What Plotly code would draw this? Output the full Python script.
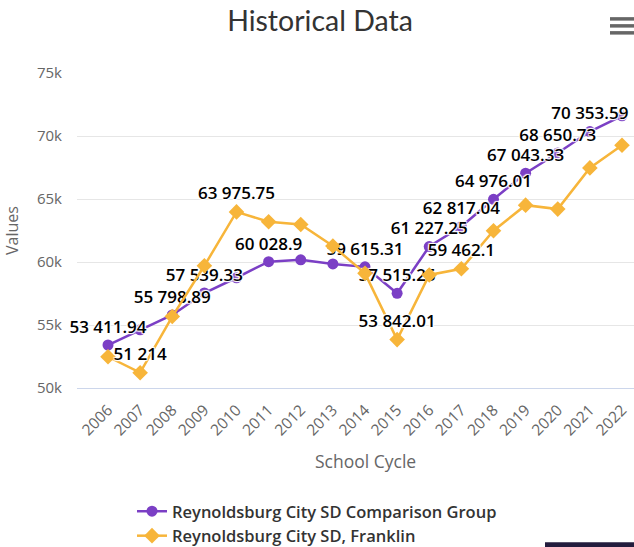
import plotly.graph_objects as go

years = list(range(2006, 2023))

comparison_group = [53411.94, 54620, 55798.89, 57539.33, 58750, 60028.9, 60170, 59850,
                    59615.31, 57515.25, 61227.25, 62817.04, 64976.01, 67043.33, 68650.73,
                    70353.59, 71600]
franklin = [52480, 51214, 55670, 59700, 63975.75, 63190, 62980, 61270,
            59100, 53842.01, 58970, 59462.1, 62480, 64510, 64200, 67470, 69260]

# which points carry a visible data label in the reference
comparison_labeled = [2006, 2008, 2009, 2011, 2014, 2015, 2016, 2017, 2018, 2019, 2020, 2021]
franklin_labeled = [2007, 2010, 2015, 2017]

series_names = ["Reynoldsburg City SD Comparison Group", "Reynoldsburg City SD, Franklin"]
y_ticks = [50000, 55000, 60000, 65000, 70000, 75000]
y_tick_text = ["50k", "55k", "60k", "65k", "70k", "75k"]


def fmt(v):
    s = f"{v:,.2f}".rstrip("0").rstrip(".")
    return s.replace(",", " ")


def labels(values, keep):
    return [fmt(v) if y in keep else "" for y, v in zip(years, values)]


W, H = 634, 547
ML, MR, MT, MB = 77, 0, 72.5, 158.7
PW = W - ML - MR
PH = H - MT - MB


def px_x(px):
    return (px - ML) / PW


def px_y(py):
    return (H - MB - py) / PH


PURPLE = "#7b3fc5"
ORANGE = "#f7b53a"
FONT = "Open Sans, sans-serif"
shadow = "1px 1px 1px #fff, -1px -1px 1px #fff, 1px -1px 1px #fff, -1px 1px 1px #fff"
label_font = dict(family=FONT, size=17, color="#000", weight=600, shadow=shadow)

fig = go.Figure()
fig.add_trace(go.Scatter(
    x=years, y=comparison_group, name=series_names[0], mode="lines+markers+text",
    line=dict(color=PURPLE, width=2.5), marker=dict(symbol="circle", size=11, color=PURPLE),
    text=labels(comparison_group, comparison_labeled), textposition="top center",
    textfont=label_font, cliponaxis=False,
))
fig.add_trace(go.Scatter(
    x=years, y=franklin, name=series_names[1], mode="lines+markers+text",
    line=dict(color=ORANGE, width=2.5), marker=dict(symbol="diamond", size=12, color=ORANGE),
    text=labels(franklin, franklin_labeled), textposition="top center",
    textfont=label_font, cliponaxis=False,
))

shapes = []
for y0 in (16.5, 23.5, 30.5):
    shapes.append(dict(type="rect", xref="paper", yref="paper",
                       x0=px_x(610), x1=px_x(636), y0=px_y(y0 + 3.5), y1=px_y(y0),
                       fillcolor="#666666", line=dict(width=0)))
shapes.append(dict(type="rect", xref="paper", yref="paper",
                   x0=px_x(545), x1=px_x(640), y0=px_y(552), y1=px_y(543),
                   fillcolor="#231c3d", line=dict(width=0)))

fig.update_layout(
    width=W, height=H,
    margin=dict(l=ML, r=MR, t=MT, b=MB, autoexpand=False),
    paper_bgcolor="#ffffff", plot_bgcolor="#ffffff",
    separators=". ",
    font=dict(family=FONT, color="#666666"),
    title=dict(text="Historical Data", x=320 / W, xref="container", xanchor="center",
               y=1 - 21 / H, yref="container", yanchor="middle",
               font=dict(family="Lato, sans-serif", size=28.5, color="#333333")),
    showlegend=True,
    legend=dict(orientation="v", x=0.5, xref="container", xanchor="center",
                y=1 - 494 / H, yref="container", yanchor="top",
                font=dict(family=FONT, size=16.5, color="#333333", weight=600),
                itemwidth=30, tracegroupgap=0, bgcolor="rgba(0,0,0,0)"),
    xaxis=dict(range=[2005.035, 2022.374], tickmode="array", tickvals=years,
               ticktext=[str(y) for y in years], tickangle=-45,
               tickfont=dict(size=15.5, color="#666666"), showgrid=False, zeroline=False,
               showline=True, linecolor="#ccd6eb", linewidth=1, ticks="",
               ticklabelstandoff=6),
    yaxis=dict(range=[50000, 75000], tickmode="array", tickvals=y_ticks, ticktext=y_tick_text,
               tickfont=dict(size=15, color="#666666"), showgrid=True, gridcolor="#e6e6e6",
               gridwidth=1, zeroline=False, showline=False, ticks="", ticklabelstandoff=14,
               title=dict(text="Values", font=dict(size=16, color="#666666"), standoff=14)),
    annotations=[dict(text="School Cycle", xref="paper", yref="paper", x=px_x(366), y=px_y(461),
                      xanchor="center", yanchor="middle", showarrow=False,
                      font=dict(size=17.5, color="#666666"))],
    shapes=shapes,
)

fig.write_html("out.html", config={"displayModeBar": False},
               post_script="document.body.style.margin='0';document.body.style.padding='0';")
